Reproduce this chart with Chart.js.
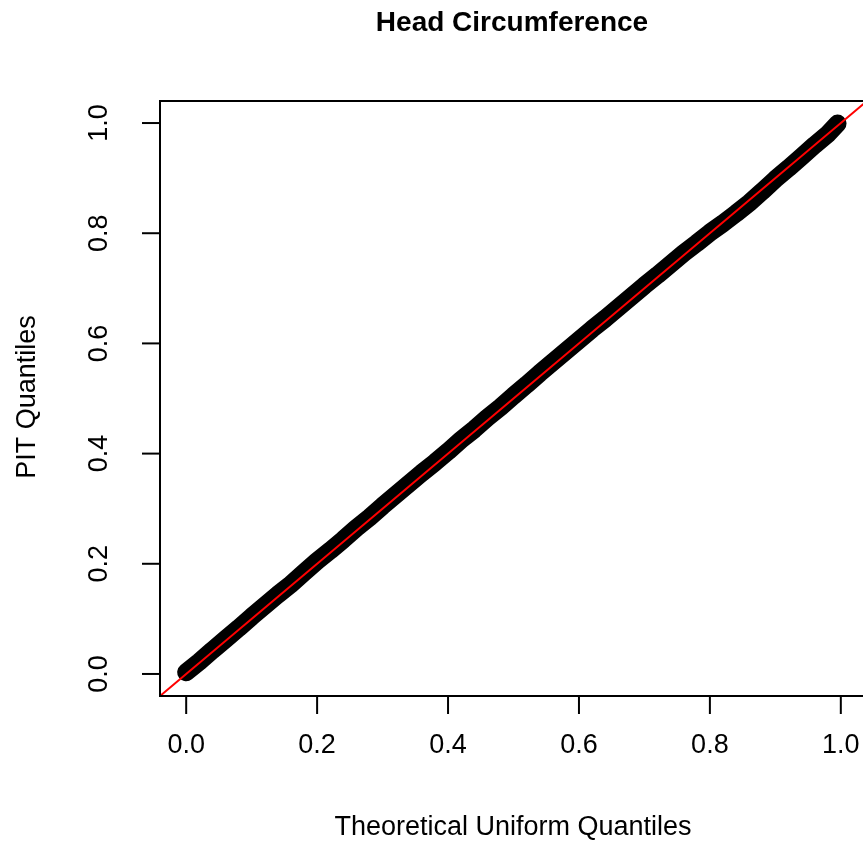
<!DOCTYPE html>
<html>
<head>
<meta charset="utf-8">
<script src="https://cdn.jsdelivr.net/npm/chart.js@4.4.1/dist/chart.umd.min.js"></script>
<style>
  html, body { margin: 0; padding: 0; background: #fff; overflow: hidden; }
  #wrap { position: relative; width: 870px; height: 844px; }
</style>
</head>
<body>
<div id="wrap"><canvas id="qq" width="870" height="844"></canvas></div>
<script>
// theoretical uniform quantiles vs PIT quantiles
const theoretical = [0.00, 0.02, 0.04, 0.06, 0.08, 0.10, 0.12, 0.14, 0.16, 0.18,
    0.20, 0.22, 0.24, 0.26, 0.28, 0.30, 0.32, 0.34, 0.36, 0.38,
    0.40, 0.42, 0.44, 0.46, 0.48, 0.50, 0.52, 0.54, 0.56, 0.58,
    0.60, 0.62, 0.64, 0.66, 0.68, 0.70, 0.72, 0.74, 0.76, 0.78,
    0.80, 0.82, 0.84, 0.86, 0.88, 0.90, 0.92, 0.94, 0.96, 0.98, 0.995];
const pit = [0.003, 0.022, 0.043, 0.063, 0.083, 0.104, 0.124, 0.144, 0.163, 0.184,
    0.205, 0.224, 0.244, 0.265, 0.284, 0.305, 0.325, 0.345, 0.365, 0.384,
    0.404, 0.425, 0.444, 0.465, 0.484, 0.505, 0.525, 0.546, 0.566, 0.586,
    0.606, 0.626, 0.645, 0.665, 0.685, 0.705, 0.724, 0.744, 0.764, 0.782,
    0.801, 0.818, 0.836, 0.855, 0.876, 0.898, 0.918, 0.939, 0.960, 0.980, 0.999];
const refLine = [-0.04, 1.04];
const tickValues = [0.0, 0.2, 0.4, 0.6, 0.8, 1.0];
const tickLabels = ["0.0", "0.2", "0.4", "0.6", "0.8", "1.0"];

const titleText = "Head Circumference";
const xTitle = "Theoretical Uniform Quantiles";
const yTitle = "PIT Quantiles";

const font = "'Liberation Sans', Arial, sans-serif";

// R style box, ticks and labels drawn from the chart's scales
const rAxes = {
    id: "rAxes",
    afterDraw(chart) {
        const { ctx, chartArea: a, scales: { x, y } } = chart;
        ctx.save();
        ctx.strokeStyle = "#000";
        ctx.fillStyle = "#000";
        ctx.lineWidth = 2;
        ctx.strokeRect(a.left, a.top, a.right - a.left, a.bottom - a.top);

        const tickLen = 18;
        ctx.font = "27px " + font;
        ctx.textAlign = "center";
        ctx.textBaseline = "middle";
        tickValues.forEach((v, i) => {
            const px = x.getPixelForValue(v);
            ctx.beginPath();
            ctx.moveTo(px, a.bottom);
            ctx.lineTo(px, a.bottom + tickLen);
            ctx.stroke();
            ctx.fillText(tickLabels[i], px, a.bottom + 50);

            const py = y.getPixelForValue(v);
            ctx.beginPath();
            ctx.moveTo(a.left, py);
            ctx.lineTo(a.left - tickLen, py);
            ctx.stroke();
            ctx.save();
            ctx.translate(a.left - 60, py);
            ctx.rotate(-Math.PI / 2);
            ctx.fillText(tickLabels[i], 0, 0);
            ctx.restore();
        });

        ctx.fillText(xTitle, 513, 828);
        ctx.save();
        ctx.translate(28, 397);
        ctx.rotate(-Math.PI / 2);
        ctx.fillText(yTitle, 0, 0);
        ctx.restore();

        ctx.font = "bold 28px " + font;
        ctx.fillText(titleText, 512, 23);
        ctx.restore();
    }
};

new Chart(document.getElementById("qq"), {
    type: "scatter",
    data: {
        datasets: [
            {
                label: "PIT",
                data: theoretical.map((q, i) => ({ x: q, y: pit[i] })),
                showLine: true,
                borderColor: "#000",
                borderWidth: 18,
                borderCapStyle: "round",
                borderJoinStyle: "round",
                pointRadius: 8,
                pointBorderWidth: 1,
                pointBackgroundColor: "#000",
                pointBorderColor: "#000",
                order: 2
            },
            {
                label: "y = x",
                data: refLine.map(v => ({ x: v, y: v })),
                showLine: true,
                borderColor: "#ff0000",
                borderWidth: 2,
                pointRadius: 0,
                order: 1
            }
        ]
    },
    options: {
        responsive: false,
        animation: false,
        devicePixelRatio: 1,
        layout: { autoPadding: false, padding: { left: 160, right: 3, top: 101, bottom: 148 } },
        plugins: { legend: { display: false }, tooltip: { enabled: false } },
        scales: {
            x: { type: "linear", min: -0.04, max: 1.04, display: false },
            y: { type: "linear", min: -0.04, max: 1.04, display: false }
        }
    },
    plugins: [rAxes]
});
</script>
</body>
</html>
